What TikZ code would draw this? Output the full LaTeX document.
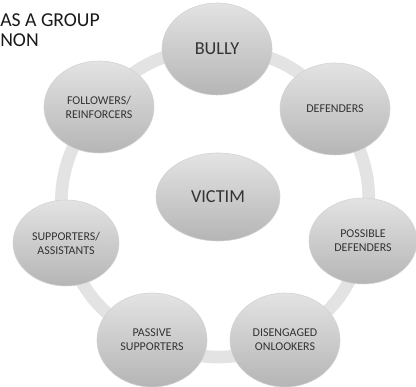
\documentclass[tikz,border=0pt]{standalone}
\usepackage{fontspec}
\setmainfont{Carlito}
\usetikzlibrary{shapes.geometric}
\pgfdeclarelayer{back}
\pgfsetlayers{back,main}
\tikzset{
  role/.style={ellipse, minimum width=2.75cm, minimum height=2.3cm, inner sep=0pt,
    top color=gray!22, bottom color=gray!58, draw=gray!35, align=center,
    text=black!80, font=\fontsize{8.5}{10}\selectfont},
  mainrole/.style={role, font=\fontsize{13}{15}\selectfont},
  link/.style={line width=9pt, draw=gray!22},
  heading/.style={anchor=base west, inner sep=0pt, text=black!90, font=\fontsize{14}{16}\selectfont}
}
\begin{document}
\begin{tikzpicture}[x=0.025cm, y=0.025cm]
\useasboundingbox (0,0) rectangle (416,387);
% title lines
\node[heading] (head1) at (0,360) {AS A GROUP};
\node[heading] (head2) at (0,340) {NON};
% the circle of roles
\node[mainrole] (bully) at (217,338) {BULLY};
\node[role] (foll) at (99,280) {FOLLOWERS/\\REINFORCERS};
\node[role] (def) at (335,278) {DEFENDERS};
\node[role, minimum width=2.65cm, minimum height=2.15cm] (supp) at (66,144) {SUPPORTERS/\\ASSISTANTS};
\node[role, minimum width=2.7cm, minimum height=2.15cm] (poss) at (363,146) {POSSIBLE\\DEFENDERS};
\node[role, minimum height=2.35cm] (pass) at (152,47) {PASSIVE\\SUPPORTERS};
\node[role, minimum height=2.35cm] (dis) at (285,47) {DISENGAGED\\ONLOOKERS};
\node[mainrole, minimum width=3.1cm, minimum height=2.2cm] (victim) at (218,190) {VICTIM};
% connectors behind the ellipses
\begin{pgfonlayer}{back}
\foreach \a/\b in {bully/foll, foll/supp, supp/pass, pass/dis, dis/poss, poss/def, def/bully}
  \draw[link] (\a.center) to[bend right=26] (\b.center);
\end{pgfonlayer}
\end{tikzpicture}
\end{document}
